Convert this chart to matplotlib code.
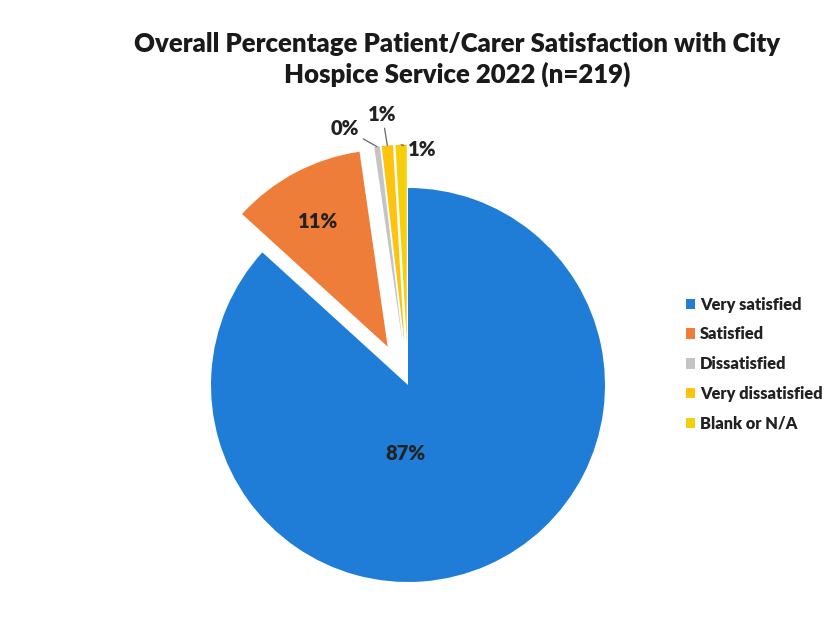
"""Overall patient/carer satisfaction pie chart."""

import matplotlib.pyplot as plt
import numpy as np

categories = ["Very satisfied", "Satisfied", "Dissatisfied", "Very dissatisfied", "Blank or N/A"]
counts = [190, 24, 1, 2, 2]
pct_labels = ["87%", "11%", "0%", "1%", "1%"]
colors = ["#1F7DD8", "#EE7D3A", "#C4C4C4", "#FFC20E", "#F5CF0A"]
explode = [0.0, 0.22, 0.22, 0.22, 0.22]

plt.rcParams["font.family"] = ["Lato", "DejaVu Sans"]

fig = plt.figure(figsize=(8.34, 6.23), dpi=100)
ax = fig.add_axes([0, 0, 1, 1])

# pie drawn in pixel-like data units so the layout matches the scan
cx, cy, r = 408, 623 - 385, 197
wedges, _ = ax.pie(
    counts,
    colors=colors,
    explode=[e * r for e in explode],
    startangle=90,
    counterclock=False,
    center=(cx, cy),
    radius=r,
    wedgeprops={"linewidth": 0},
)
ax.set_xlim(0, 834)
ax.set_ylim(0, 623)
ax.set_aspect("equal")
ax.axis("off")


def edge_point(w, frac=1.0):
    mid = np.deg2rad((w.theta1 + w.theta2) / 2)
    return (w.center[0] + frac * w.r * np.cos(mid), w.center[1] + frac * w.r * np.sin(mid))


label_font = {"fontsize": 14.5, "fontweight": "heavy", "color": "#222222"}

# inside labels
bx, by = wedges[0].center
ax.text(bx - 3, by - 68, pct_labels[0], ha="center", va="center", **label_font)
ox, oy = edge_point(wedges[1], 0.72)
ax.text(ox - 3, oy, pct_labels[1], ha="center", va="center", **label_font)

# outside labels with leader lines
offsets = [(-32, 18), (-5, 31), (21, -5)]
for w, lab, (dx, dy) in zip(wedges[2:], pct_labels[2:], offsets):
    px, py = edge_point(w)
    ax.annotate(
        lab, xy=(px, py), xytext=(px + dx, py + dy), ha="center", va="center",
        arrowprops={"arrowstyle": "-", "color": "#666666", "lw": 0.9, "shrinkA": 1, "shrinkB": 0},
        **label_font,
    )

fig.text(
    0.548, 0.905, "Overall Percentage Patient/Carer Satisfaction with City\nHospice Service 2022 (n=219)",
    ha="center", va="center", fontsize=18.5, fontweight="heavy", color="#1a1a1a", linespacing=1.25,
)

ax.legend(
    wedges, categories, loc="upper left", bbox_to_anchor=(0.822, 0.524), frameon=False,
    prop={"size": 11.8, "weight": "heavy"}, labelcolor="#222222", handlelength=0.6, handleheight=0.6,
    handletextpad=0.3, labelspacing=0.84, borderaxespad=0, borderpad=0,
)

plt.savefig("out.png", dpi=100)
plt.close()
